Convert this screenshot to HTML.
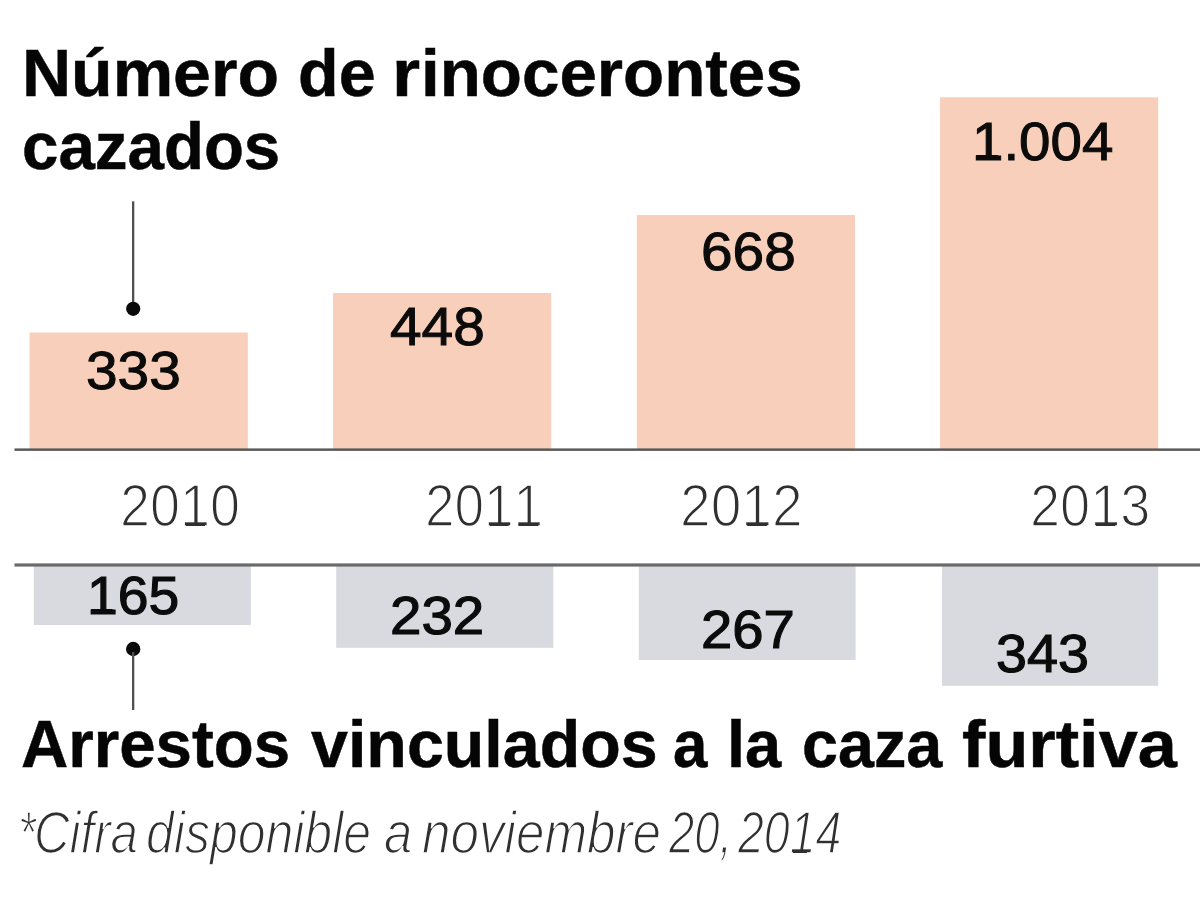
<!DOCTYPE html>
<html lang="es">
<head>
<meta charset="utf-8">
<title>Número de rinocerontes cazados</title>
<style>
  html, body { margin: 0; padding: 0; }
  body {
    width: 1200px; height: 900px; overflow: hidden; position: relative;
    background: #ffffff;
    font-family: "Liberation Sans", sans-serif;
    color: #0a0a0a;
  }
  .t { position: absolute; white-space: nowrap; line-height: 1; transform-origin: 0 0; }

  /* titles */
  .title { font-weight: bold; font-size: 67.5px; color: #050505; -webkit-text-stroke: 0.5px #050505; }

  /* value labels */
  .val  { font-size: 54px; color: #0b0b0b; -webkit-text-stroke: 1.0px #0b0b0b; }
  .val.g { -webkit-text-stroke: 1.15px #0b0b0b; }

  /* year labels (thin) */
  .year { font-size: 59px; color: #303030; -webkit-text-stroke: 1.6px #ffffff; }

  /* foot note */
  .foot { font-size: 60px; font-style: italic; color: #303030; -webkit-text-stroke: 1.6px #ffffff; }

  /* foot serif for the digit 1 */
  .one { position: relative; display: inline-block; }
  .one::after { content: ""; position: absolute; background: currentColor; }
  .val .one::after  { left: 0.07em; width: 0.39em; top: calc(0.8465em - 3.9px); height: 4.4px; }
  .val.g .one::after { top: calc(0.8465em - 3.9px); height: 4.6px; }
  .year .one::after { left: 0.10em; width: 0.36em; top: calc(0.8465em - 2.9px); height: 2.5px; }
  .foot .one::after { left: 0.07em; width: 0.30em; top: calc(0.8465em - 2.9px); height: 2.4px; }

</style>
</head>
<body>

<!-- bars, axis rules and pointers -->
<svg width="1200" height="900" viewBox="0 0 1200 900" style="position:absolute; left:0; top:0;">
  <!-- peach bars: rhinos poached -->
  <g fill="#f8cfbb">
    <rect x="29.5"  y="332.5" width="218.3" height="117"/>
    <rect x="333"   y="293"   width="218.2" height="156.5"/>
    <rect x="636.8" y="215"   width="218.2" height="234.5"/>
    <rect x="940"   y="97.3"  width="218.2" height="352.2"/>
  </g>
  <!-- gray bars: arrests -->
  <g fill="#d9dadf">
    <rect x="33.7"  y="565" width="217.2" height="60"/>
    <rect x="336.2" y="565" width="217.1" height="82.8"/>
    <rect x="638.8" y="565" width="216.8" height="95"/>
    <rect x="942"   y="565" width="216.2" height="120.8"/>
  </g>
  <!-- axis rules -->
  <rect x="14.5" y="448.4" width="1185.5" height="2.5" fill="#5a5a5a"/>
  <rect x="14.5" y="563.4" width="1185.5" height="3.2" fill="#6a6a6a"/>
  <!-- pointers -->
  <rect x="132" y="201.3" width="2.3" height="104" fill="#505050"/>
  <circle cx="133.2" cy="308.8" r="7.1" fill="#0a0a0a"/>
  <circle cx="133.2" cy="649" r="7.2" fill="#0a0a0a"/>
  <rect x="132" y="652" width="2.3" height="58" fill="#505050"/>
</svg>

<!-- text -->
<div class="t title" id="a1" style="left:22.48px; top:38.86px; transform:scaleX(1.0075);">Número</div>
<div class="t title" id="a2" style="left:298.02px; top:38.86px; transform:scaleX(0.9858);">de</div>
<div class="t title" id="a3" style="left:391.59px; top:38.86px; transform:scaleX(1.0694);">r</div>
<div class="t title" id="a4" style="left:421.00px; top:38.86px; transform:scaleX(0.9976);">inocerontes</div>
<div class="t title" id="b1" style="left:22.06px; top:111.86px; transform:scaleX(0.9695);">cazados</div>
<div class="t title" id="c1" style="left:21.06px; top:709.70px; transform:scaleX(0.9695);">Arrestos</div>
<div class="t title" id="c2" style="left:311.00px; top:709.70px; transform:scaleX(0.9833);">vinculados</div>
<div class="t title" id="c3" style="left:673.17px; top:709.70px; transform:scaleX(0.9152);">a</div>
<div class="t title" id="c4" style="left:727.13px; top:709.70px; transform:scaleX(0.9626);">la</div>
<div class="t title" id="c5" style="left:802.09px; top:709.70px; transform:scaleX(0.9582);">caza</div>
<div class="t title" id="c6" style="left:961.95px; top:709.70px; transform:scaleX(1.0415);">furtiva</div>
<div class="t val" id="v1" style="left:85.92px; top:343.00px; transform:scaleX(1.0523);">333</div>
<div class="t val" id="v2" style="left:389.95px; top:298.50px; transform:scaleX(1.0517);">448</div>
<div class="t val" id="v3" style="left:700.88px; top:223.70px; transform:scaleX(1.0516);">668</div>
<div class="t val" id="v4" style="left:971.86px; top:113.60px; transform:scaleX(1.0456);"><span class="one">1</span>.004</div>
<div class="t val g" id="g1" style="left:86.91px; top:567.70px; transform:scaleX(1.0246);"><span class="one">1</span>65</div>
<div class="t val g" id="g2" style="left:389.91px; top:588.00px; transform:scaleX(1.0465);">232</div>
<div class="t val g" id="g3" style="left:700.92px; top:602.00px; transform:scaleX(1.0407);">267</div>
<div class="t val g" id="g4" style="left:996.42px; top:626.00px; transform:scaleX(1.0321);">343</div>
<div class="t year" id="y1" style="left:120.35px; top:476.50px; transform:scaleX(0.9139);">20<span class="one">1</span>0</div>
<div class="t year" id="y2" style="left:425.40px; top:476.50px; transform:scaleX(0.8990);">20<span class="one">1</span><span class="one">1</span></div>
<div class="t year" id="y3" style="left:680.26px; top:476.50px; transform:scaleX(0.9339);">20<span class="one">1</span>2</div>
<div class="t year" id="y4" style="left:1030.32px; top:476.50px; transform:scaleX(0.9172);">20<span class="one">1</span>3</div>
<div class="t foot" id="f0" style="left:18.06px; top:802.50px; transform:scaleX(0.7580);">*</div>
<div class="t foot" id="f1" style="left:33.66px; top:802.50px; transform:scaleX(0.8203);">Cifra</div>
<div class="t foot" id="f2" style="left:146.49px; top:802.50px; transform:scaleX(0.8329);">disponible</div>
<div class="t foot" id="f3" style="left:384.30px; top:802.50px; transform:scaleX(0.8477);">a</div>
<div class="t foot" id="f4" style="left:422.27px; top:802.50px; transform:scaleX(0.8535);">noviembre</div>
<div class="t foot" id="f5" style="left:669.24px; top:802.50px; transform:scaleX(0.7575);">20,</div>
<div class="t foot" id="f6" style="left:738.21px; top:802.50px; transform:scaleX(0.7750);">20<span class="one">1</span>4</div>

</body>
</html>
